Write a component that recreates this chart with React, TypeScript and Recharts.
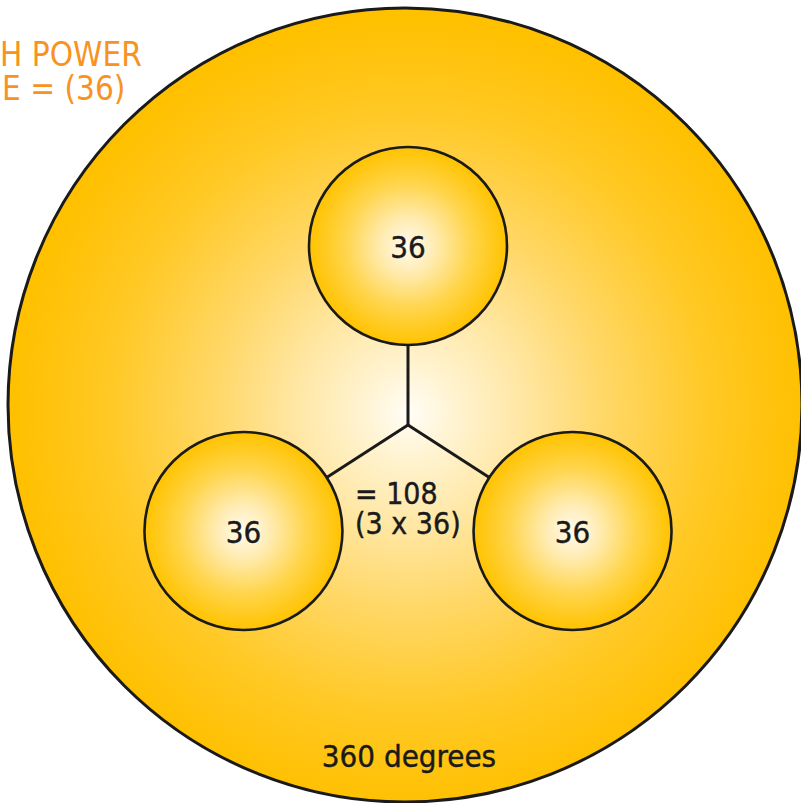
import React from 'react';
import { ScatterChart, Scatter, XAxis, YAxis } from 'recharts';

// values shown in the diagram
const parts = [36, 36, 36];
const partLabels = ['36', '36', '36'];
const sumLines = ['= 108', '(3 x 36)'];
const wholeLabel = '360 degrees';
const titleLines = ['H POWER', 'E = (36)'];

// layout (diagram units = pixels, the axes map 1:1)
const W = 801;
const H = 803;
const BIG = { x: 405, y: 405, r: 397 };
const HUB = { x: 408, y: 436 };
const JOIN = { x: 408, y: 425 };
const ARM = 190;
const SMALL_R = 99;
const FONT = "'DejaVu Sans Condensed', 'DejaVu Sans', sans-serif";
const INK = '#1a1a1a';

// three circles spread evenly round the hub (360 / parts.length degrees apart)
const smallCircles = parts.map((v, i) => {
  const a = ((90 + i * (360 / parts.length)) * Math.PI) / 180;
  return {
    x: HUB.x + ARM * Math.cos(a),
    y: HUB.y - ARM * Math.sin(a),
    value: v,
    label: partLabels[i],
  };
});

// spokes from the join point to the rim of each circle
const spokes = smallCircles.map((c) => {
  const dx = c.x - JOIN.x;
  const dy = c.y - JOIN.y;
  const d = Math.sqrt(dx * dx + dy * dy);
  return [
    { x: JOIN.x, y: JOIN.y },
    { x: c.x - (dx / d) * SMALL_R, y: c.y - (dy / d) * SMALL_R },
  ];
});

const bigData = [{ x: BIG.x, y: BIG.y, label: wholeLabel }];
const sumData = [{ x: HUB.x, y: HUB.y }];
const titleData = [{ x: 0, y: 0 }];

const textStyle = { fontFamily: FONT, fill: INK, stroke: INK, strokeWidth: 0.4 };

const BigDisc = (props: any) => {
  const { cx, cy, payload } = props;
  return (
    <g>
      <circle cx={cx} cy={cy} r={BIG.r} fill="url(#bigGrad)" stroke={INK} strokeWidth={3} />
      <text x={HUB.x + 1} y={cy + 362} textAnchor="middle" fontSize={31} style={textStyle}>
        {payload.label}
      </text>
    </g>
  );
};

const SmallDisc = (props: any) => {
  const { cx, cy, payload } = props;
  return (
    <g>
      <circle cx={cx} cy={cy} r={SMALL_R} fill="url(#smallGrad)" stroke={INK} strokeWidth={2.6} />
      <text x={cx} y={cy + 12} textAnchor="middle" fontSize={31} style={textStyle}>
        {payload.label}
      </text>
    </g>
  );
};

const SumText = (props: any) => {
  const { cx, cy } = props;
  return (
    <text fontSize={30} style={textStyle}>
      {sumLines.map((t, i) => (
        <tspan key={i} x={cx - 53} y={cy + 68 + i * 30}>
          {t}
        </tspan>
      ))}
    </text>
  );
};

const TitleText = (props: any) => {
  const { cx, cy } = props;
  return (
    <text fontSize={33} fontFamily={FONT} fill="#F7931E">
      {titleLines.map((t, i) => (
        <tspan key={i} x={cx + (i === 0 ? 0 : 2)} y={cy + 66 + i * 34}>
          {t}
        </tspan>
      ))}
    </text>
  );
};

const NoDot = () => null;

export default function App() {
  return (
    <div style={{ position: 'absolute', left: 0, top: 0, width: W, height: H, background: '#fff', overflow: 'hidden' }}>
      <ScatterChart width={W} height={H} margin={{ top: 0, right: 0, bottom: 0, left: 0 }}>
        <defs>
          <radialGradient id="bigGrad" cx="50.5%" cy="51%" r="50%">
            <stop offset="0%" stopColor="#FFFDF6" />
            <stop offset="12%" stopColor="#FFF3D0" />
            <stop offset="30%" stopColor="#FFE6A0" />
            <stop offset="50%" stopColor="#FFD765" />
            <stop offset="75%" stopColor="#FFC926" />
            <stop offset="100%" stopColor="#FFC000" />
          </radialGradient>
          <radialGradient id="smallGrad" cx="50%" cy="50%" r="50%">
            <stop offset="0%" stopColor="#FFFAEE" />
            <stop offset="25%" stopColor="#FFEDB8" />
            <stop offset="65%" stopColor="#FFD448" />
            <stop offset="100%" stopColor="#FFC300" />
          </radialGradient>
        </defs>
        <XAxis type="number" dataKey="x" domain={[0, W]} hide allowDataOverflow />
        <YAxis type="number" dataKey="y" domain={[0, H]} reversed hide allowDataOverflow />
        <Scatter data={bigData} shape={BigDisc} isAnimationActive={false} />
        {spokes.map((s, i) => (
          <Scatter
            key={i}
            data={s}
            shape={NoDot}
            line={{ stroke: INK, strokeWidth: 3 }}
            isAnimationActive={false}
          />
        ))}
        <Scatter data={smallCircles} shape={SmallDisc} isAnimationActive={false} />
        <Scatter data={sumData} shape={SumText} isAnimationActive={false} />
        <Scatter data={titleData} shape={TitleText} isAnimationActive={false} />
      </ScatterChart>
    </div>
  );
}
